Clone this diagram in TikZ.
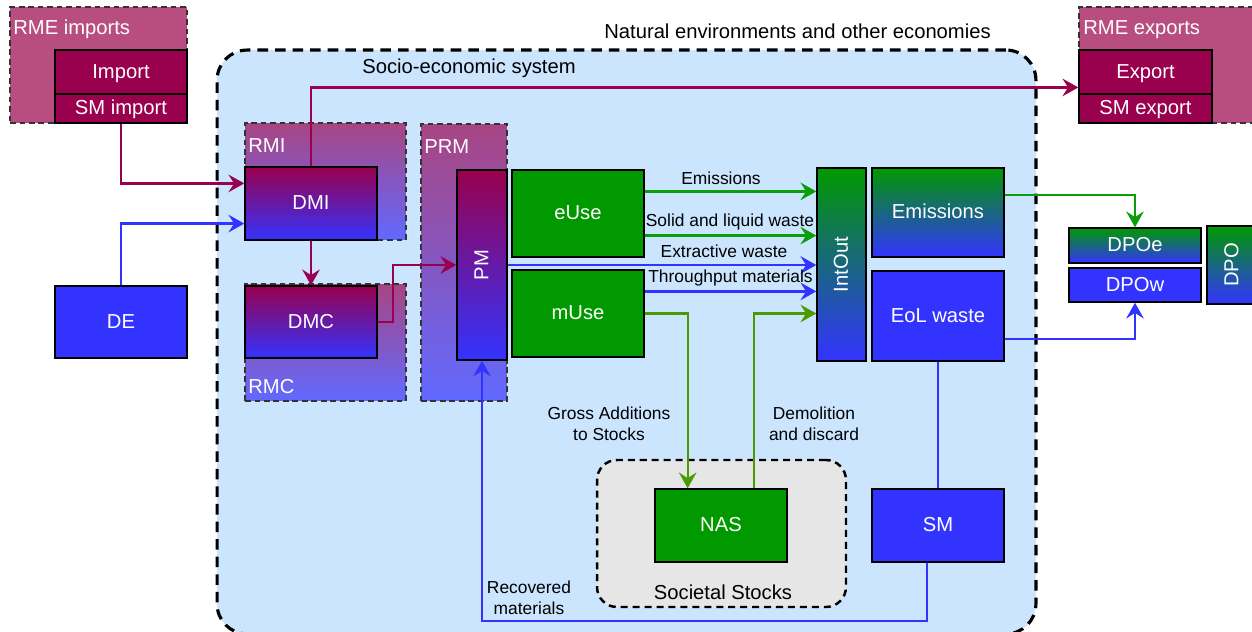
\documentclass[tikz,border=0pt]{standalone}
\usepackage{fontspec}
\setmainfont{Liberation Sans}
\usetikzlibrary{arrows.meta,calc}
\definecolor{mag}{HTML}{99004D}
\definecolor{blu}{HTML}{3333FF}
\definecolor{grn}{HTML}{009900}
\definecolor{garr}{HTML}{0A9E0A}
\definecolor{oli}{HTML}{4D9900}
\definecolor{sky}{HTML}{CCE5FF}
\definecolor{rme}{HTML}{B84D80}
\definecolor{stk}{HTML}{E6E6E6}
\definecolor{fadem}{RGB}{168,69,131}
\definecolor{fadeb}{RGB}{97,105,255}
\definecolor{dgray}{HTML}{333333}
\begin{document}
\begin{tikzpicture}[x=0.02cm,y=-0.02cm,
 box/.style={draw=black, line width=0.8pt, text=white, font=\fontsize{11.5}{13}\selectfont, inner sep=0pt, text height=8.3pt, text depth=1pt},
 grp/.style={draw=dgray, line width=1.4pt, dash pattern=on 3.2pt off 2.2pt, inner sep=0pt},
 glbl/.style={text=white, font=\fontsize{11.5}{13}\selectfont, inner sep=0pt, anchor=base west},
 rlbl/.style={text=white, font=\fontsize{11.5}{13}\selectfont, inner sep=0pt, rotate=90, text height=8.3pt, text depth=1pt},
 elbl/.style={text=black, font=\fontsize{9.9}{11.8}\selectfont, inner sep=0pt, align=center},
 ttl/.style={text=black, font=\fontsize{11.5}{13}\selectfont, inner sep=0pt, anchor=base west},
 flow/.style={line width=1.3pt, -{Stealth[length=9pt,width=10pt,inset=3.2pt]}},
 plain/.style={line width=1.3pt},
 gradmb/.style={top color=mag, bottom color=blu},
 gradgb/.style={top color=grn, bottom color=blu},
 gradfade/.style={top color=fadem, bottom color=fadeb},
]
\useasboundingbox (0,0) rectangle (1252,632);

% socio-economic system
\node[draw=black, line width=1.8pt, dash pattern=on 6pt off 4pt, fill=sky, rounded corners=0.6cm,
      minimum width=16.38cm, minimum height=11.68cm, inner sep=0pt] (socio) at (626.5,342) {};
\node[ttl] (socioT) at (362,73) {Socio-economic system};
\node[ttl] (natT) at (604,38) {Natural environments and other economies};

% societal stocks
\node[draw=black, line width=1.4pt, dash pattern=on 4pt off 2.8pt, fill=stk, rounded corners=0.4cm,
      minimum width=4.98cm, minimum height=2.94cm, inner sep=0pt] (stocks) at (721.5,533.5) {};
\node[ttl, anchor=base] (stocksT) at (723,599) {Societal Stocks};

% group boxes
\node[grp, fill=rme, minimum width=3.54cm, minimum height=2.32cm] (rmeimp) at (98.5,65) {};
\node[glbl] (rmeimpT) at (13,34) {RME imports};
\node[grp, fill=rme, minimum width=3.62cm, minimum height=2.32cm] (rmeexp) at (1169.5,65) {};
\node[glbl] (rmeexpT) at (1083,34) {RME exports};
\node[grp, gradfade, minimum width=3.22cm, minimum height=2.34cm] (rmi) at (325.5,181.5) {};
\node[grp, gradfade, minimum width=3.22cm, minimum height=2.34cm] (rmc) at (325.5,342.5) {};
\node[grp, gradfade, minimum width=1.72cm, minimum height=5.54cm] (prm) at (464,262.5) {};
\node[glbl] (rmiT) at (248,152) {RMI};
\node[glbl] (rmcT) at (248,393) {RMC};
\node[glbl] (prmT) at (424,153) {PRM};

% boxes
\node[box, fill=mag, minimum width=2.64cm, minimum height=0.88cm] (import) at (121,72) {Import};
\node[box, fill=mag, minimum width=2.64cm, minimum height=0.58cm] (smimport) at (121,108.5) {SM import};
\node[box, fill=mag, minimum width=2.66cm, minimum height=0.88cm] (export) at (1145.5,72) {Export};
\node[box, fill=mag, minimum width=2.66cm, minimum height=0.58cm] (smexport) at (1145.5,108.5) {SM export};
\node[box, gradmb, minimum width=2.64cm, minimum height=1.46cm] (dmi) at (311,203.5) {DMI};
\node[box, gradmb, minimum width=2.64cm, minimum height=1.44cm] (dmc) at (311,322) {DMC};
\node[box, fill=blu, minimum width=2.64cm, minimum height=1.44cm] (de) at (121,322) {DE};
\node[box, gradmb, minimum width=1.0cm, minimum height=3.8cm] (pm) at (482,265) {};
\node[rlbl] (pmT) at (pm.center) {PM};
\node[box, fill=grn, minimum width=2.64cm, minimum height=1.74cm] (euse) at (578,213.5) {eUse};
\node[box, fill=grn, minimum width=2.64cm, minimum height=1.74cm] (muse) at (578,313.5) {mUse};
\node[box, gradgb, minimum width=0.98cm, minimum height=3.86cm] (intout) at (841.5,264.5) {};
\node[rlbl] (intoutT) at (intout.center) {IntOut};
\node[box, gradgb, minimum width=2.64cm, minimum height=1.78cm] (emis) at (938,212.5) {Emissions};
\node[box, fill=blu, minimum width=2.64cm, minimum height=1.8cm] (eol) at (938,316) {EoL waste};
\node[box, fill=blu, minimum width=2.64cm, minimum height=1.46cm] (sm) at (938,525.5) {SM};
\node[box, fill=grn, minimum width=2.64cm, minimum height=1.46cm] (nas) at (721,525.5) {NAS};
\node[box, gradgb, minimum width=2.64cm, minimum height=0.70cm] (dpoe) at (1135,245.5) {DPOe};
\node[box, fill=blu, minimum width=2.64cm, minimum height=0.68cm] (dpow) at (1135,285) {DPOw};
\node[box, gradgb, minimum width=1.0cm, minimum height=1.56cm] (dpo) at (1232,265) {};
\node[rlbl] (dpoT) at (dpo.center) {DPO};

% connectors
\coordinate (d1) at ($(dmi.north west)!0.23!(dmi.south west)$);
\coordinate (d2) at ($(dmi.north west)!0.77!(dmi.south west)$);
\draw[flow, mag] (smimport.south) |- (d1);
\draw[flow, blu] (de.north) |- (d2);
\coordinate (x1) at ($(export.north west)!0.84!(export.south west)$);
\draw[flow, mag] (dmi.north) |- (x1);
\draw[flow, mag] (dmi.south) -- (dmc.north);
\draw[flow, mag] (dmc.east) -- ++(15,0) |- (pm.west);

\coordinate (u1) at ($(euse.north east)!0.25!(euse.south east)$);
\coordinate (u2) at ($(euse.north east)!0.75!(euse.south east)$);
\draw[flow, garr] (u1) -- (u1 -| intout.west);
\draw[flow, garr] (u2) -- (u2 -| intout.west);
\draw[flow, blu] (pm.east) -- (pm.east -| intout.west);
\coordinate (m1) at ($(muse.north east)!0.25!(muse.south east)$);
\draw[flow, blu] (m1) -- (m1 -| intout.west);
\coordinate (n1) at ($(nas.north west)!0.25!(nas.north east)$);
\coordinate (n2) at ($(nas.north west)!0.75!(nas.north east)$);
\draw[flow, oli] (muse.east) -| (n1);
\draw[flow, oli] (n2) |- (muse.east -| intout.west);

\coordinate (em1) at ($(emis.north east)!0.31!(emis.south east)$);
\draw[flow, garr] (em1) -| (dpoe.north);
\coordinate (eo1) at ($(eol.north east)!0.75!(eol.south east)$);
\draw[flow, blu] (eo1) -| (dpow.south);
\draw[plain, blu] (eol.south) -- (sm.north);
\coordinate (s1) at ($(sm.south west)!0.42!(sm.south east)$);
\coordinate (rc) at (pm.south |- 0,621);
\draw[flow, blu] (s1) |- (rc) -- (pm.south);

% edge labels
\node[elbl] (lEmis) at (721,178) {Emissions};
\node[elbl] (lSolid) at (730,222) {Solid and liquid waste};
\node[elbl] (lExtr) at (724,251) {Extractive waste};
\node[elbl] (lThru) at (730.5,278) {Throughput materials};
\node[elbl] (lGross) at (609,423.5) {Gross Additions\\to Stocks};
\node[elbl] (lDemo) at (814,423.5) {Demolition\\and discard};
\node[elbl] (lRec) at (529,598) {Recovered\\materials};
\end{tikzpicture}
\end{document}
